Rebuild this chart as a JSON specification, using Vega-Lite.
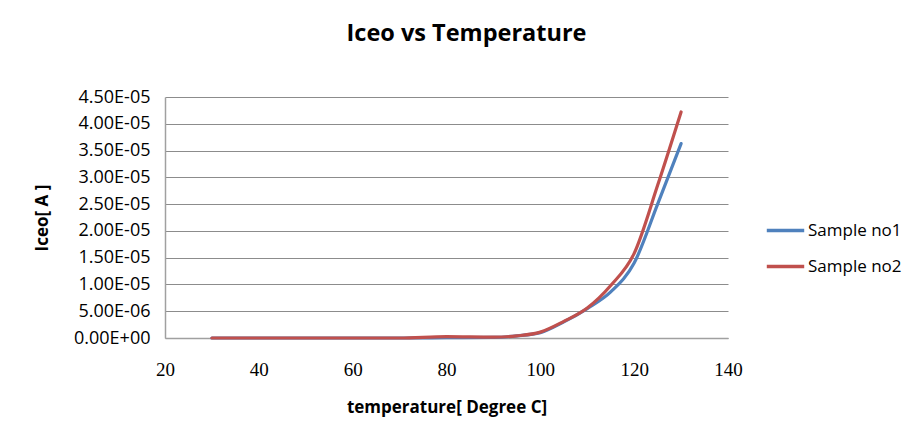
{
  "$schema": "https://vega.github.io/schema/vega-lite/v6.json",
  "autosize": {"type": "none"},
  "width": 563,
  "height": 241,
  "padding": {"left": 165, "top": 97, "right": 190, "bottom": 101},
  "background": "white",
  "title": {
    "text": "Iceo vs Temperature",
    "font": "Open Sans",
    "fontSize": 23.5,
    "fontWeight": "bold",
    "color": "#000000",
    "anchor": "middle",
    "dx": 20,
    "offset": 43
  },
  "data": {
    "values": [
      {"temp": 30, "series": "Sample no1", "iceo": 0},
      {"temp": 40, "series": "Sample no1", "iceo": 0},
      {"temp": 50, "series": "Sample no1", "iceo": 0},
      {"temp": 60, "series": "Sample no1", "iceo": 0},
      {"temp": 70, "series": "Sample no1", "iceo": 0},
      {"temp": 80, "series": "Sample no1", "iceo": 0.00000005},
      {"temp": 90, "series": "Sample no1", "iceo": 0.0000001},
      {"temp": 95, "series": "Sample no1", "iceo": 0.0000004},
      {"temp": 100, "series": "Sample no1", "iceo": 0.000001},
      {"temp": 105, "series": "Sample no1", "iceo": 0.000003},
      {"temp": 110, "series": "Sample no1", "iceo": 0.0000055},
      {"temp": 115, "series": "Sample no1", "iceo": 0.0000086},
      {"temp": 120, "series": "Sample no1", "iceo": 0.000014},
      {"temp": 125, "series": "Sample no1", "iceo": 0.000025},
      {"temp": 130, "series": "Sample no1", "iceo": 0.0000363},
      {"temp": 30, "series": "Sample no2", "iceo": 0},
      {"temp": 40, "series": "Sample no2", "iceo": 0},
      {"temp": 50, "series": "Sample no2", "iceo": 0},
      {"temp": 60, "series": "Sample no2", "iceo": 0},
      {"temp": 70, "series": "Sample no2", "iceo": 0},
      {"temp": 80, "series": "Sample no2", "iceo": 0.00000025},
      {"temp": 90, "series": "Sample no2", "iceo": 0.00000015},
      {"temp": 95, "series": "Sample no2", "iceo": 0.0000004},
      {"temp": 100, "series": "Sample no2", "iceo": 0.0000011},
      {"temp": 105, "series": "Sample no2", "iceo": 0.0000031},
      {"temp": 110, "series": "Sample no2", "iceo": 0.0000056},
      {"temp": 115, "series": "Sample no2", "iceo": 0.0000098},
      {"temp": 120, "series": "Sample no2", "iceo": 0.0000158},
      {"temp": 125, "series": "Sample no2", "iceo": 0.0000285},
      {"temp": 130, "series": "Sample no2", "iceo": 0.0000422}
    ]
  },
  "mark": {"type": "line", "strokeWidth": 3.2, "interpolate": "monotone", "strokeCap": "round"},
  "encoding": {
    "x": {
      "field": "temp",
      "type": "quantitative",
      "scale": {"domain": [20, 140], "nice": false, "zero": false},
      "axis": {
        "values": [20, 40, 60, 80, 100, 120, 140],
        "title": "temperature[ Degree C]",
        "titleFont": "Open Sans",
        "titleFontSize": 17,
        "titleFontWeight": "bold",
        "titleColor": "#000000",
        "titlePadding": 20,
        "labelFont": "Liberation Serif",
        "labelFontSize": 19,
        "labelColor": "#000000",
        "labelPadding": 22,
        "labelFlush": false,
        "labelOverlap": false,
        "ticks": false,
        "grid": false,
        "domainColor": "#a0a0a0",
        "domainWidth": 1.5
      }
    },
    "y": {
      "field": "iceo",
      "type": "quantitative",
      "scale": {"domain": [0, 0.000045], "nice": false},
      "axis": {
        "values": [0, 0.000005, 0.00001, 0.000015, 0.00002, 0.000025, 0.00003, 0.000035, 0.00004, 0.000045],
        "labelExpr": "datum.value == 0 ? '0.00E+00' : replace(format(datum.value, '.2e'), 'e-', 'E-0')",
        "title": "Iceo[ A ]",
        "titleFont": "Open Sans",
        "titleFontSize": 17,
        "titleFontWeight": "bold",
        "titleColor": "#000000",
        "titlePadding": 22,
        "labelFont": "Open Sans",
        "labelFontSize": 18,
        "labelColor": "#000000",
        "labelPadding": 15,
        "labelOverlap": false,
        "ticks": false,
        "grid": true,
        "gridColor": "#8c8c8c",
        "gridWidth": 1,
        "domainColor": "#a0a0a0",
        "domainWidth": 1.5
      }
    },
    "color": {
      "field": "series",
      "type": "nominal",
      "scale": {"domain": ["Sample no1", "Sample no2"], "range": ["#4F81BD", "#C0504D"]},
      "legend": {
        "title": null,
        "orient": "none",
        "legendX": 600,
        "legendY": 113,
        "symbolType": "stroke",
        "symbolSize": 1400,
        "symbolStrokeWidth": 3.5,
        "labelFont": "Open Sans",
        "labelFontSize": 17,
        "labelColor": "#000000",
        "labelOffset": 2,
        "rowPadding": 7
      }
    },
    "order": {"field": "series", "sort": "ascending"}
  },
  "config": {"view": {"stroke": null}}
}
